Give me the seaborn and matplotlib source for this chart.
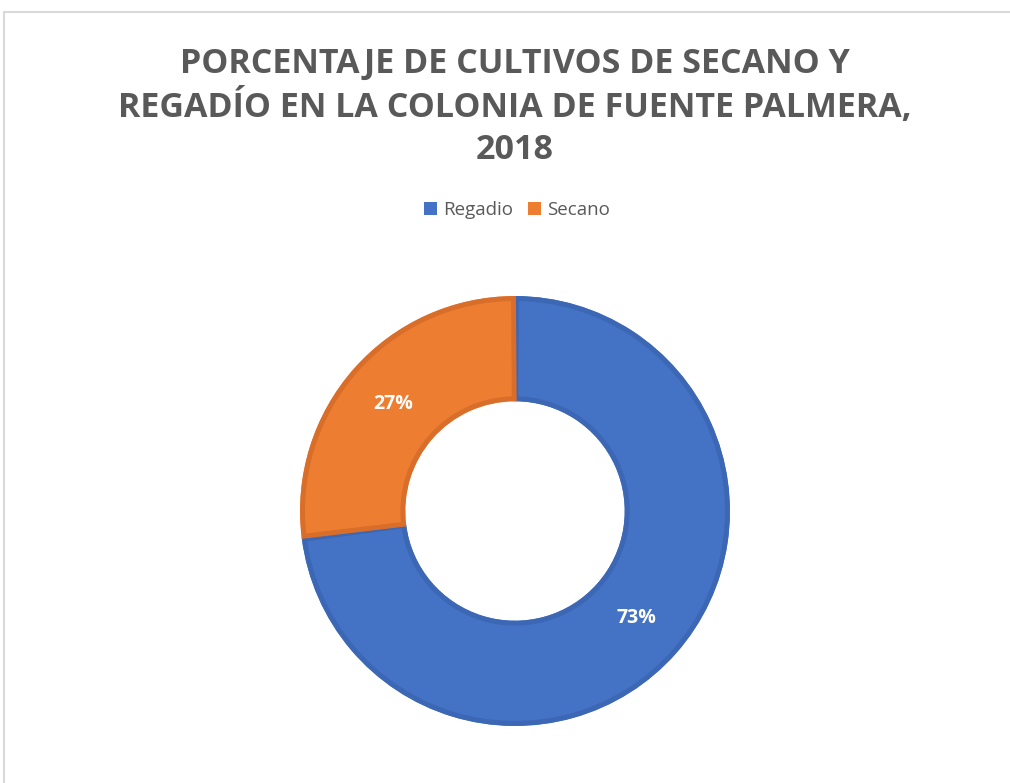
import matplotlib
matplotlib.use("Agg")
import matplotlib.pyplot as plt
import matplotlib.patches as mpatches
import seaborn as sns

# data
categories = ["Regadio", "Secano"]
values = [73, 27]
colors = ["#4472C4", "#ED7D31"]
edge_colors = ["#3B67B5", "#D96E2A"]
title_text = "PORCENTAJE DE CULTIVOS DE SECANO Y\nREGADÍO EN LA COLONIA DE FUENTE PALMERA,\n2018"

sns.set_theme(style="white")
plt.rcParams['font.family'] = ['Open Sans', 'DejaVu Sans']

W, H = 1010, 783
fig = plt.figure(figsize=(W / 100, H / 100), dpi=100)
fig.patch.set_facecolor("white")

# chart border (light gray frame, cut at right/bottom)
frame = mpatches.Rectangle((4 / W, -0.05), 1.1, (H - 12) / H + 0.05,
                           transform=fig.transFigure, fill=False,
                           edgecolor="#D9D9D9", linewidth=1.5)
fig.patches.append(frame)

# donut axes
cx, cy, r = 515, 511, 215
ax = fig.add_axes([(cx - r) / W, (H - cy - r) / H, 2 * r / W, 2 * r / H])
wedges, _, autotexts = ax.pie(values, colors=colors, startangle=90, counterclock=False,
                              radius=1.0, autopct=lambda p: f"{p:.0f}%",
                              pctdistance=0.755,
                              wedgeprops=dict(width=0.49, linewidth=0))
for w, ec in zip(wedges, edge_colors):
    inner = mpatches.Wedge(w.center, w.r - 0.012, w.theta1 + 0.4, w.theta2 - 0.4,
                           width=w.width - 0.024, facecolor="none",
                           edgecolor=ec, linewidth=3.5)
    ax.add_patch(inner)
for t in autotexts:
    t.set_color("white")
    t.set_fontsize(14)
    t.set_fontweight("bold")
ax.set_xlim(-1, 1)
ax.set_ylim(-1, 1)
ax.set_aspect("equal")
ax.axis("off")

# title
fig.text(515 / W, 1 - 107 / H, title_text, ha="center", va="center",
         fontsize=24.5, fontweight="bold", color="#595959", linespacing=1.3)

# legend
handles = [mpatches.Patch(facecolor=c, edgecolor="none", label=l)
           for c, l in zip(colors, categories)]
fig.legend(handles=handles, loc="center", bbox_to_anchor=(517 / W, 1 - 210 / H),
           ncol=2, frameon=False, fontsize=13.5, handlelength=0.7, handleheight=0.7,
           handletextpad=0.3, columnspacing=0.8, labelcolor="#595959")

fig.savefig("out.png", dpi=100)
